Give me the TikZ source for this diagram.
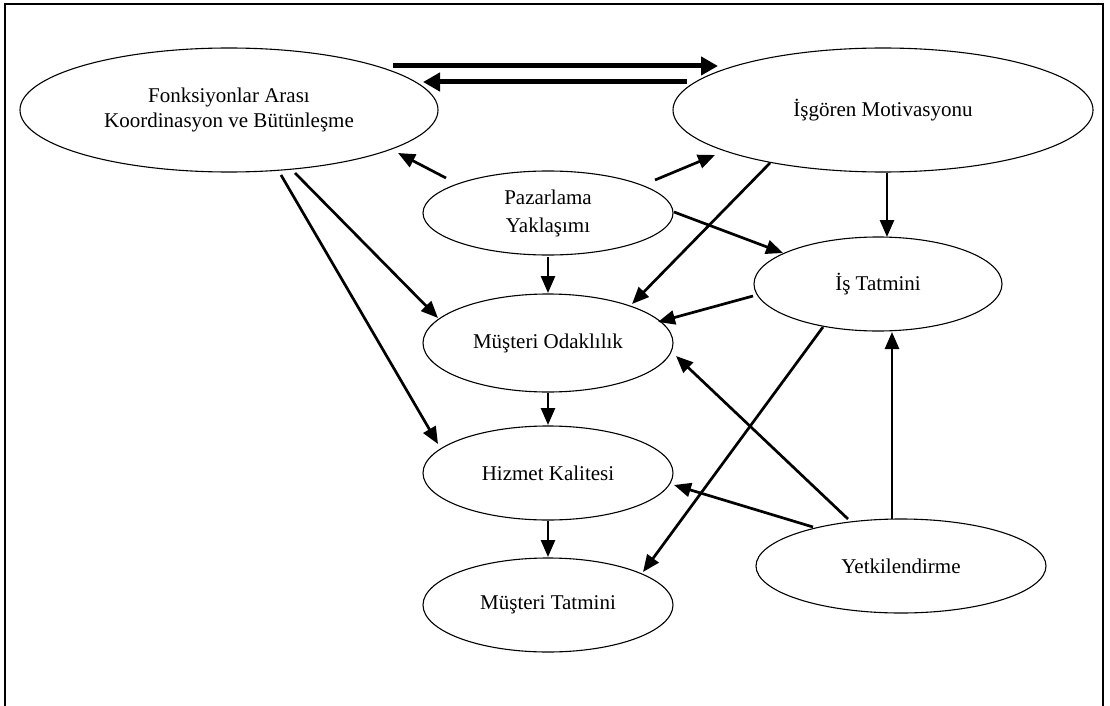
\documentclass[tikz,border=0pt]{standalone}
\usepackage{fontspec}
\setmainfont{Liberation Serif}
\usetikzlibrary{arrows.meta,calc,shapes.geometric}

\tikzset{
  oval/.style={ellipse, draw, line width=1.1pt, inner sep=0pt,
    font=\fontsize{21}{25}\selectfont, align=center},
  link/.style={line width=2.7pt, -{Triangle[length=17pt,width=14pt]}},
  heavylink/.style={line width=5pt, -{Triangle[length=17pt,width=18pt]}},
}

\begin{document}
\begin{tikzpicture}[x=1pt,y=-1pt]
  \useasboundingbox (0,0) rectangle (1110,706);
  \clip (0,0) rectangle (1110,706);
  % outer frame, open at the bottom of the page
  \draw[line width=1.6pt] (5,740) -- (5,4) -- (1103,4) -- (1103,740);

  % concepts
  \node[oval, minimum width=418pt, minimum height=124pt] (F) at (229,110)
    {Fonksiyonlar Arası\\Koordinasyon ve Bütünleşme};
  \node[oval, minimum width=420pt, minimum height=124pt] (M) at (883,110)
    {İşgören Motivasyonu};
  \node[oval, minimum width=250pt, minimum height=84pt,
    font=\fontsize{21}{28}\selectfont] (P) at (548,213)
    {Pazarlama\\Yaklaşımı};
  \node[oval, minimum width=250pt, minimum height=98pt] (MO) at (548,343)
    {Müşteri Odaklılık};
  \node[oval, minimum width=248pt, minimum height=94pt] (IT) at (878,284)
    {İş Tatmini};
  \node[oval, minimum width=250pt, minimum height=94pt] (HK) at (548,473)
    {Hizmet Kalitesi};
  \node[oval, minimum width=250pt, minimum height=94pt] (MT) at (548,605)
    {Müşteri Tatmini};
  \node[oval, minimum width=290pt, minimum height=94pt] (Y) at (901,566)
    {Yetkilendirme};

  % two-way link between the top concepts
  \draw[heavylink] ($(F)+(164,-44)$) -- ($(M)+(-165,-44)$);
  \draw[heavylink] ($(M)+(-196,-28)$) -- ($(F)+(194,-28)$);

  % influences
  \draw[link] ($(P)+(-102,-35)$) -- ($(F)+(169,43)$);
  \draw[link] ($(P)+(107,-33)$) -- ($(M)+(-168,45)$);
  \draw[link] ($(M)+(-113,53)$) -- ($(MO)+(84,-39)$);
  \draw[link] ($(P)+(126,-1)$) -- ($(IT)+(-95,-31)$);
  \draw[link] ($(M)+(4,63)$) -- ($(IT)+(9,-47)$);
  \draw[link] ($(IT)+(-125,12)$) -- ($(MO)+(110,-21)$);
  \draw[link] ($(IT)+(-55,43)$) -- ($(MT)+(95,-33)$);
  \draw[link] ($(Y)+(-9,-47)$) -- ($(IT)+(14,48)$);
  \draw[link] ($(Y)+(-53,-47)$) -- ($(MO)+(128,13)$);
  \draw[link] ($(Y)+(-88,-39)$) -- ($(HK)+(126,12)$);
  \draw[link] ($(P)+(0,44)$) -- ($(MO)+(0,-50)$);
  \draw[link] ($(MO)+(0,50)$) -- ($(HK)+(0,-48)$);
  \draw[link] ($(HK)+(0,48)$) -- ($(MT)+(0,-48)$);
  \draw[link] ($(F)+(66,63)$) -- ($(MO)+(-110,-25)$);
  \draw[link] ($(F)+(52,65)$) -- ($(HK)+(-110,-29)$);
\end{tikzpicture}
\end{document}
